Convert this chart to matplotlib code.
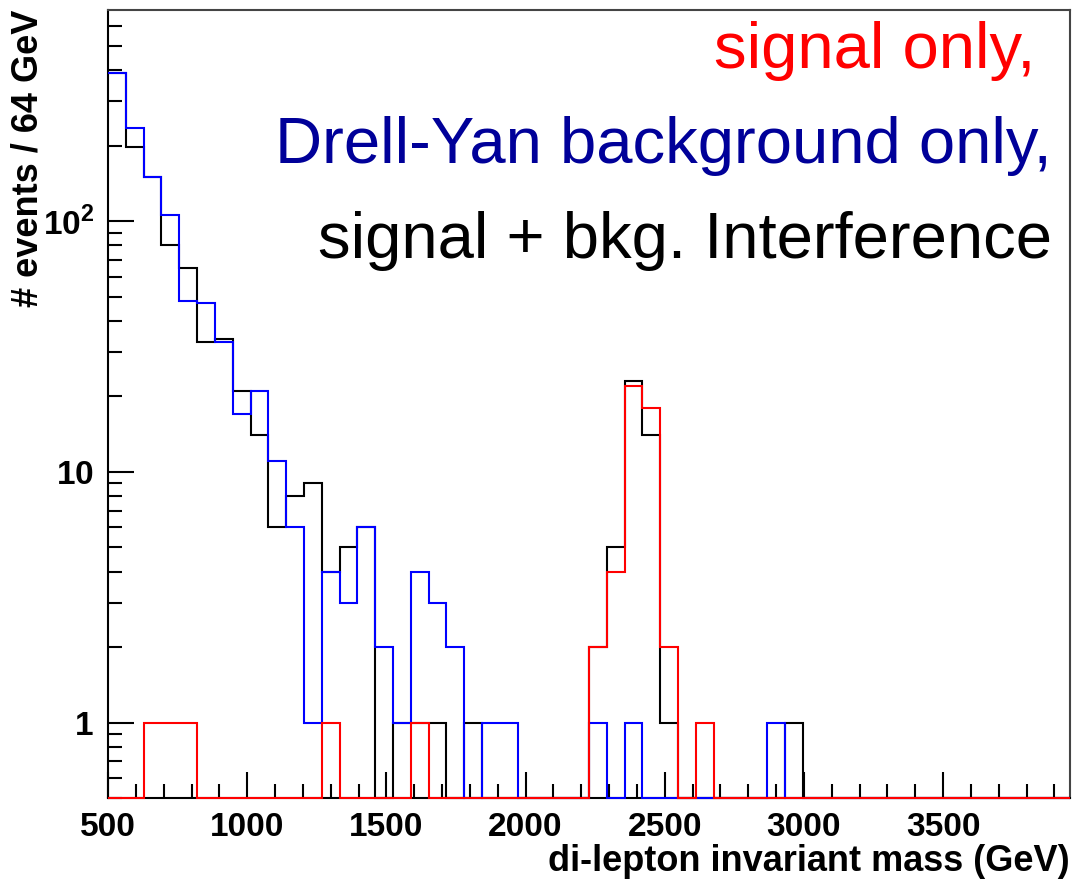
import numpy as np
import matplotlib
matplotlib.use("Agg")
import matplotlib.pyplot as plt
from matplotlib.ticker import FixedLocator, MultipleLocator, NullFormatter

plt.rcParams['font.family'] = ['Liberation Sans', 'DejaVu Sans']
plt.rcParams['mathtext.fontset'] = 'custom'
plt.rcParams['mathtext.rm'] = 'Liberation Sans'
plt.rcParams['mathtext.bf'] = 'Liberation Sans:bold'

# 54 bins of 64 GeV starting at 500 GeV
bin_start = 500
bin_width = 64
n_bins = 54

# signal + bkg. interference (black)
interference = [390, 197, 150, 80, 65, 33, 34, 21, 14, 6,
                8, 9, 4, 5, 6, 0, 1, 1, 1, 0,
                1, 0, 0, 0, 0, 0, 0, 2, 5, 23,
                14, 1, 0, 0, 0, 0, 0, 0, 1, 0,
                0, 0, 0, 0, 0, 0, 0, 0, 0, 0,
                0, 0, 0, 0]

# Drell-Yan background only (blue)
drell_yan = [390, 235, 150, 106, 48, 47, 33, 17, 21, 11,
             6, 1, 4, 3, 6, 2, 1, 4, 3, 2,
             0, 1, 1, 0, 0, 0, 0, 1, 0, 1,
             0, 0, 0, 0, 0, 0, 0, 1, 0, 0,
             0, 0, 0, 0, 0, 0, 0, 0, 0, 0,
             0, 0, 0, 0]

# signal only (red)
signal = [0, 0, 1, 1, 1, 0, 0, 0, 0, 0,
          0, 0, 1, 0, 0, 0, 0, 1, 0, 0,
          0, 0, 0, 0, 0, 0, 0, 2, 4, 22,
          18, 2, 0, 1, 0, 0, 0, 0, 0, 0,
          0, 0, 0, 0, 0, 0, 0, 0, 0, 0,
          0, 0, 0, 0]

x_ticks = [500, 1000, 1500, 2000, 2500, 3000, 3500]
y_ticks = [1, 10, 100]
y_tick_labels = [r'$\mathbf{1}$', r'$\mathbf{10}$', r'$\mathbf{10}^{\mathbf{2}}$']

ymin, ymax = 0.5, 695

edges = bin_start + bin_width * np.arange(n_bins + 1)

fig = plt.figure(figsize=(10.86, 8.81), dpi=100)
ax = fig.add_axes([108 / 1086, 1 - 798 / 881, (1070 - 108) / 1086, (798 - 10) / 881])

# ROOT draws empty bins on the axis floor
for vals, col in [(interference, 'black'), (drell_yan, '#0000ff'), (signal, '#ff0000')]:
    v = np.array(vals, dtype=float)
    v = np.where(v > 0, v, ymin)
    ax.stairs(v, edges, baseline=None, color=col, linewidth=1.5,
              zorder=3, clip_on=False)

ax.set_yscale('log')
ax.set_xlim(edges[0], edges[-1])
ax.set_ylim(ymin, ymax)

ax.xaxis.set_major_locator(FixedLocator(x_ticks))
ax.xaxis.set_minor_locator(MultipleLocator(100))
ax.set_xticklabels([str(t) for t in x_ticks], fontsize=24, fontweight='bold')

ax.yaxis.set_major_locator(FixedLocator(y_ticks))
minor_y = [m * 10.0 ** e for e in (-1, 0, 1, 2) for m in range(2, 10)]
ax.yaxis.set_minor_locator(FixedLocator([t for t in minor_y if ymin <= t <= ymax]))
ax.yaxis.set_minor_formatter(NullFormatter())
ax.set_yticklabels(y_tick_labels, fontsize=24)

ax.tick_params(which='major', direction='in', length=19, width=1.5, pad=10,
               top=False, right=False)
ax.tick_params(which='minor', direction='in', length=10, width=1.5,
               top=False, right=False)

for s in ['left', 'bottom']:
    ax.spines[s].set_linewidth(1.5)
    ax.spines[s].set_color('black')
for s in ['top', 'right']:
    ax.spines[s].set_linewidth(1.5)
    ax.spines[s].set_color('#444444')

ax.set_xlabel('di-lepton invariant mass (GeV)', fontsize=26, fontweight='bold',
              loc='right', labelpad=1)
ax.set_ylabel('# events / 64 GeV', fontsize=26, fontweight='bold',
              loc='top', labelpad=-2)

fig.text(1035 / 1086, 1 - 68 / 881, 'signal only,', color='#ff0000',
         fontsize=47, ha='right', va='baseline')
fig.text(1052 / 1086, 1 - 163 / 881, 'Drell-Yan background only,', color='#000099',
         fontsize=47, ha='right', va='baseline')
fig.text(1052 / 1086, 1 - 258 / 881, 'signal + bkg. Interference', color='black',
         fontsize=47, ha='right', va='baseline')

fig.savefig('out.png', dpi=100)
